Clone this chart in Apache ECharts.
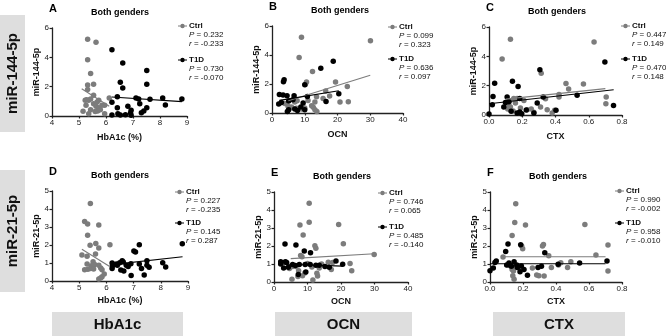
<!DOCTYPE html>
<html>
<head>
<meta charset="utf-8">
<script src="https://cdn.jsdelivr.net/npm/echarts@6/dist/echarts.min.js"></script>
<style>
html, body { margin: 0; padding: 0; background: #fff; }
#chart { width: 666px; height: 336px; }
</style>
</head>
<body>
<div id="chart"></div>
<script>
// ---- data ----
var ctrlA = [[5.32,5.23],[5.63,5.02],[5.32,3.84],[5.43,2.89],[5.32,2.11],[5.54,2.16],[5.32,1.8],[5.23,1.07],[5.36,1.07],[5.43,1.16],[5.54,1.41],[5.73,1.07],[6.12,1.23],[5.15,0.32],[5.26,0.73],[5.36,0.16],[5.43,0.43],[5.63,0.66],[5.73,0.57],[5.79,0.43],[5.85,0.73],[5.95,0.73],[5.69,0.34],[5.54,0.84],[5.67,0.95],[5.95,0.16],[5.28,1.1],[5.6,0.3]];
var t1dA = [[6.22,4.52],[6.62,3.61],[7.51,3.11],[6.53,2.3],[6.62,1.91],[7.51,2.16],[6.42,1.32],[6.22,0.93],[7.11,1.23],[7.21,1.16],[7.63,1.14],[8.1,1.23],[8.81,1.16],[8.2,0.75],[7.25,0.84],[6.42,0.57],[6.81,0.66],[7.51,0.57],[6.22,0.07],[6.44,0.16],[6.53,0.07],[6.72,0.09],[6.91,0.2],[6.93,0.05],[7.31,0.23],[7.4,0.34],[6.93,0.39]];
var fitCtrlA = [[5.1,1.86],[6.12,0.66]];
var fitT1dA = [[6.22,1.3],[8.81,0.98]];

var ctrlB = [[9.0,5.22],[30.06,4.99],[8.28,3.82],[12.37,2.86],[10.53,2.13],[10.2,1.97],[19.4,2.13],[23.0,1.83],[16.4,1.51],[17.6,1.17],[13.6,1.12],[15.6,1.0],[11.0,0.87],[6.95,0.76],[7.67,0.85],[20.76,0.76],[23.3,0.78],[13.1,0.76],[3.9,0.66],[4.9,0.46],[5.93,0.41],[7.46,0.32],[9.0,0.27],[10.0,0.34],[12.6,0.39],[13.1,0.23],[13.7,0.11],[12.1,0.5],[5.1,0.27]];
var t1dB = [[3.7,2.29],[3.5,2.15],[18.7,3.57],[14.9,3.09],[10.0,1.95],[2.25,1.28],[3.37,1.24],[4.6,1.19],[6.75,1.19],[10.8,1.14],[20.4,1.33],[2.05,0.62],[2.86,0.73],[6.4,0.92],[5.1,0.82],[9.5,0.69],[16.5,0.8],[4.7,0.11],[5.1,0.23],[6.95,0.27],[7.77,0.18],[10.0,0.23],[8.8,0.41]];
var fitCtrlB = [[5.0,0.85],[30.0,2.6]];
var fitT1dB = [[2.25,0.87],[20.4,1.53]];

var ctrlC = [[0.129,5.17],[0.632,4.97],[0.079,3.81],[0.314,2.84],[0.463,2.14],[0.479,1.78],[0.568,2.12],[0.705,1.22],[0.703,0.77],[0.421,1.22],[0.421,1.4],[0.34,1.1],[0.21,0.99],[0.169,1.13],[0.149,1.13],[0.159,0.81],[0.125,0.95],[0.119,0.68],[0.113,0.41],[0.129,0.54],[0.145,0.27],[0.189,0.47],[0.23,0.36],[0.254,0.41],[0.27,0.18],[0.31,0.54],[0.35,0.36],[0.395,0.32],[0.38,0.14]];
var t1dC = [[0.0,0.07],[0.02,0.7],[0.024,1.26],[0.034,2.17],[0.141,2.3],[0.175,1.94],[0.306,3.09],[0.697,3.61],[0.749,0.65],[0.53,1.35],[0.326,1.22],[0.109,1.22],[0.099,0.86],[0.185,1.13],[0.089,0.54],[0.133,0.25],[0.169,0.14],[0.185,0.2],[0.197,0.09],[0.224,0.34],[0.29,0.81],[0.403,0.32],[0.27,0.14],[0.119,0.9]];
var fitCtrlC = [[0.1,1.08],[0.7,1.8]];
var fitT1dC = [[0.0,0.77],[0.75,1.72]];

var ctrlD = [[5.41,4.31],[5.2,3.3],[5.31,3.17],[5.72,3.11],[5.31,2.54],[5.4,1.98],[5.61,2.09],[6.13,2.02],[5.72,1.83],[5.6,1.5],[5.1,1.44],[5.29,1.37],[5.51,1.07],[5.29,0.94],[5.45,0.85],[5.57,0.91],[5.72,0.87],[5.79,0.72],[5.84,0.63],[5.2,0.63],[5.32,0.65],[5.41,0.69],[5.53,0.67],[5.92,0.39],[5.84,0.24],[5.72,0.11],[5.79,0.17]];
var t1dD = [[6.21,1.0],[6.21,0.69],[6.37,0.94],[6.4,0.87],[6.49,1.02],[6.58,1.13],[6.62,1.06],[6.53,0.61],[6.64,0.56],[6.73,0.87],[6.8,0.8],[6.9,0.96],[6.91,0.31],[7.01,1.67],[7.07,1.61],[7.21,2.02],[7.21,0.94],[7.29,0.69],[7.39,0.33],[7.49,1.13],[7.49,0.87],[7.57,0.76],[8.07,1.02],[8.18,0.78],[8.79,2.07],[6.22,0.83]];
var fitCtrlD = [[5.1,1.76],[6.12,0.81]];
var fitT1dD = [[6.19,0.91],[8.8,1.35]];

var ctrlE = [[10.5,4.37],[10.5,3.32],[7.75,3.17],[19.3,3.2],[8.7,2.61],[12.2,2.01],[12.5,1.87],[20.7,2.13],[7.95,1.47],[8.35,1.4],[29.9,1.53],[22.7,1.03],[23.2,0.63],[16.2,1.1],[14.2,1.0],[17.5,1.08],[10.0,1.03],[11.3,0.84],[5.56,0.86],[4.6,0.75],[6.55,0.86],[13.5,0.78],[17.1,0.69],[7.35,0.63],[9.2,0.5],[5.36,0.15],[7.15,0.3],[13.0,0.34],[12.8,0.49],[11.6,0.11],[8.5,0.35]];
var t1dE = [[3.28,2.11],[6.55,2.05],[9.04,1.72],[10.9,1.62],[2.0,1.0],[2.0,1.12],[3.4,1.12],[3.77,1.08],[2.88,0.78],[4.27,0.82],[5.56,0.97],[6.36,0.91],[7.55,0.97],[9.3,0.97],[10.8,0.97],[12.5,0.93],[13.5,0.93],[15.2,0.86],[16.5,0.82],[18.5,1.16],[20.5,0.99],[7.25,0.41],[9.5,0.55]];
var fitCtrlE = [[5.0,1.3],[30.0,1.57]];
var fitT1dE = [[2.0,1.0],[20.5,0.88]];

var ctrlF = [[0.156,4.35],[0.15,3.31],[0.215,3.16],[0.134,2.59],[0.324,2.09],[0.318,2.0],[0.192,2.0],[0.198,1.85],[0.575,3.19],[0.715,2.06],[0.642,1.5],[0.715,0.61],[0.079,1.39],[0.356,1.46],[0.429,1.07],[0.49,1.13],[0.415,0.94],[0.47,0.8],[0.372,0.8],[0.257,0.78],[0.109,0.94],[0.126,0.87],[0.134,0.69],[0.142,0.61],[0.154,0.8],[0.186,0.76],[0.138,0.35],[0.146,0.15],[0.283,0.39],[0.296,0.35],[0.328,0.33]];
var t1dF = [[0.0,0.63],[0.02,0.78],[0.03,1.09],[0.038,1.17],[0.095,1.7],[0.109,2.11],[0.186,2.07],[0.332,1.63],[0.101,0.94],[0.115,1.06],[0.121,0.94],[0.146,1.13],[0.162,0.94],[0.19,0.89],[0.182,0.57],[0.206,0.69],[0.227,0.37],[0.291,0.8],[0.312,0.87],[0.413,0.98],[0.543,1.06],[0.709,1.17],[0.166,0.8],[0.13,0.87]];
var fitCtrlF = [[0.08,1.4],[0.7,1.4]];
var fitT1dF = [[0.0,1.01],[0.7,1.01]];

var panelLetters = ['A', 'B', 'C', 'D', 'E', 'F'];
var xNames = ['HbA1c (%)', 'OCN', 'CTX'];
var rowNames = ['miR-144-5p', 'miR-21-5p'];
var colNames = ['HbA1c', 'OCN', 'CTX'];
var ctrlP = ['0.232', '0.099', '0.447', '0.227', '0.746', '0.990'];
var ctrlR = ['-0.233', '0.323', '0.149', '-0.235', '0.065', '-0.002'];
var t1dP = ['0.730', '0.636', '0.470', '0.145', '0.485', '0.958'];
var t1dR = ['-0.070', '0.097', '0.148', '0.287', '-0.140', '-0.010'];

var ctrlSets = [ctrlA, ctrlB, ctrlC, ctrlD, ctrlE, ctrlF];
var t1dSets = [t1dA, t1dB, t1dC, t1dD, t1dE, t1dF];
var fitCtrlSets = [fitCtrlA, fitCtrlB, fitCtrlC, fitCtrlD, fitCtrlE, fitCtrlF];
var fitT1dSets = [fitT1dA, fitT1dB, fitT1dC, fitT1dD, fitT1dE, fitT1dF];

// x axis ranges per column, y ranges per row
var xRange = [[4, 9, 1], [0, 40, 10], [0, 0.8, 0.2]];
var yRange = [[0, 6, 2], [0, 5, 1]];

// grid boxes (px) and legend anchors
var layout = [
  { l: 52,  t: 28,  w: 135, h: 88, lx: 178, ly: 26,  ly2: 60 },
  { l: 272, t: 26,  w: 131, h: 87, lx: 388, ly: 27,  ly2: 59 },
  { l: 489, t: 27,  w: 133, h: 88, lx: 621, ly: 26,  ly2: 59 },
  { l: 52,  t: 191, w: 136, h: 90, lx: 175, ly: 192, ly2: 223 },
  { l: 274, t: 192, w: 134, h: 90, lx: 378, ly: 193, ly2: 227 },
  { l: 490, t: 192, w: 132, h: 90, lx: 615, ly: 191, ly2: 223 }
];

var FONT = 'Liberation Sans, Arial, sans-serif';
var GRAY = '#7c7c7c';
var BOX = '#dedede';

var grids = [], xAxes = [], yAxes = [], series = [], graphics = [];

layout.forEach(function (p, i) {
  var col = i % 3, row = Math.floor(i / 3);
  var xr = xRange[col], yr = yRange[row];
  grids.push({ left: p.l, top: p.t, width: p.w, height: p.h });
  var axisCommon = {
    axisLine: { lineStyle: { color: '#222', width: 1.3 } },
    axisTick: { length: 2.5, lineStyle: { color: '#222', width: 1.2 } },
    axisLabel: { color: '#1a1a1a', fontSize: 8, fontFamily: FONT, margin: 3 },
    splitLine: { show: false },
    nameTextStyle: { color: '#111', fontSize: 9, fontWeight: 'bold', fontFamily: FONT },
    nameLocation: 'middle'
  };
  xAxes.push(Object.assign({}, axisCommon, {
    type: 'value', gridIndex: i, min: xr[0], max: xr[1], interval: xr[2],
    name: xNames[col], nameGap: row === 0 ? 17 : 15,
    axisLabel: Object.assign({}, axisCommon.axisLabel, {
      formatter: col === 2 ? function (v) { return v.toFixed(1); } : '{value}'
    })
  }));
  yAxes.push(Object.assign({}, axisCommon, {
    type: 'value', gridIndex: i, min: yr[0], max: yr[1], interval: yr[2],
    name: rowNames[row], nameGap: 10
  }));
  series.push({
    type: 'scatter', xAxisIndex: i, yAxisIndex: i, data: ctrlSets[i],
    symbolSize: 5.5, itemStyle: { color: GRAY, opacity: 1 }, z: 3
  });
  series.push({
    type: 'scatter', xAxisIndex: i, yAxisIndex: i, data: t1dSets[i],
    symbolSize: 5.5, itemStyle: { color: '#000', opacity: 1 }, z: 3
  });
  series.push({
    type: 'line', xAxisIndex: i, yAxisIndex: i, data: fitCtrlSets[i],
    symbol: 'none', lineStyle: { color: GRAY, width: 1.1 }, z: 4
  });
  series.push({
    type: 'line', xAxisIndex: i, yAxisIndex: i, data: fitT1dSets[i],
    symbol: 'none', lineStyle: { color: '#000', width: 1.1 }, z: 4
  });

  // panel letter and title
  graphics.push({
    type: 'text', left: p.l - 3, top: p.t - 25,
    style: { text: panelLetters[i], font: 'bold 11px ' + FONT, fill: '#000' }
  });
  graphics.push({
    type: 'text', x: p.l + 68, y: p.t - 15,
    style: { text: 'Both genders', font: 'bold 9px ' + FONT, fill: '#000', align: 'center', verticalAlign: 'middle' }
  });

  // legend: Ctrl / T1D with stats
  [[p.ly, GRAY, 'Ctrl', ctrlP[i], ctrlR[i]], [p.ly2, '#000', 'T1D', t1dP[i], t1dR[i]]].forEach(function (e) {
    var y = e[0];
    graphics.push({ type: 'line', shape: { x1: p.lx, y1: y, x2: p.lx + 9, y2: y }, style: { stroke: e[1], lineWidth: 1 } });
    graphics.push({ type: 'circle', shape: { cx: p.lx + 4.5, cy: y, r: 2.2 }, style: { fill: e[1] } });
    graphics.push({
      type: 'text', x: p.lx + 11, y: y,
      style: { text: e[2], font: 'bold 8px ' + FONT, fill: '#111', verticalAlign: 'middle' }
    });
    graphics.push({
      type: 'text', x: p.lx + 11, y: y + 9,
      style: { text: '{i|P} = ' + e[3], font: '8px ' + FONT, fill: '#111', verticalAlign: 'middle',
        rich: { i: { fontStyle: 'italic', fontSize: 8, fontFamily: FONT } } }
    });
    graphics.push({
      type: 'text', x: p.lx + 11, y: y + 17.5,
      style: { text: '{i|r} = ' + e[4], font: '8px ' + FONT, fill: '#111', verticalAlign: 'middle',
        rich: { i: { fontStyle: 'italic', fontSize: 8, fontFamily: FONT } } }
    });
  });
});

// row label boxes
[[15, 117], [170, 122]].forEach(function (b, r) {
  graphics.push({ type: 'rect', shape: { x: 0, y: b[0], width: 25, height: b[1] }, style: { fill: BOX } });
  graphics.push({
    type: 'text', x: 12.5, y: b[0] + b[1] / 2, rotation: Math.PI / 2,
    style: { text: rowNames[r], font: 'bold 15px ' + FONT, fill: '#111', align: 'center', verticalAlign: 'middle' }
  });
});

// column label boxes
[[52, 131], [275, 137], [493, 132]].forEach(function (b, c) {
  graphics.push({ type: 'rect', shape: { x: b[0], y: 312, width: b[1], height: 24 }, style: { fill: BOX } });
  graphics.push({
    type: 'text', x: b[0] + b[1] / 2, y: 325,
    style: { text: colNames[c], font: 'bold 15px ' + FONT, fill: '#111', align: 'center', verticalAlign: 'middle' }
  });
});

var chart = echarts.init(document.getElementById('chart'));
chart.setOption({
  animation: false,
  backgroundColor: '#fff',
  grid: grids,
  xAxis: xAxes,
  yAxis: yAxes,
  series: series,
  graphic: graphics
});
</script>
</body>
</html>
